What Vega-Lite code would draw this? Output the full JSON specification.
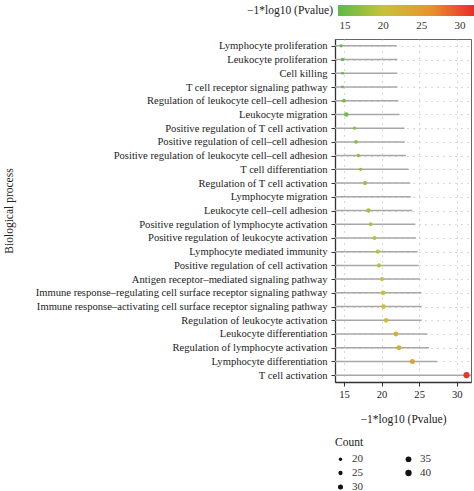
{
  "$schema": "https://vega.github.io/schema/vega-lite/v6.json",
  "width": 136,
  "height": 343,
  "autosize": {"type": "none"},
  "padding": {"left": 335, "top": 39, "right": 3, "bottom": 109},
  "background": "white",
  "config": {
    "font": "Liberation Serif",
    "view": {"stroke": "#666666", "strokeWidth": 1},
    "axis": {
      "labelFont": "Liberation Serif",
      "titleFont": "Liberation Serif",
      "labelFontSize": 10.6,
      "titleFontSize": 11.5,
      "titleFontWeight": "normal",
      "labelColor": "#222222",
      "titleColor": "#222222",
      "domainColor": "#333333",
      "domainWidth": 1.3,
      "tickColor": "#333333",
      "tickSize": 4,
      "gridColor": "#b5b5b5",
      "gridDash": [1, 5],
      "gridWidth": 1,
      "labelLimit": 0
    },
    "legend": {
      "labelFont": "Liberation Serif",
      "titleFont": "Liberation Serif",
      "labelFontSize": 11,
      "titleFontSize": 11.5,
      "titleFontWeight": "normal",
      "labelColor": "#333333",
      "titleColor": "#222222",
      "padding": 0
    }
  },
  "data": {
    "values": [
      {"term": "Lymphocyte proliferation", "pval": 14.6, "count": 20, "lineEnd": 22.0},
      {"term": "Leukocyte proliferation", "pval": 14.8, "count": 21, "lineEnd": 22.1},
      {"term": "Cell killing", "pval": 14.8, "count": 18, "lineEnd": 22.1},
      {"term": "T cell receptor signaling pathway", "pval": 14.8, "count": 18, "lineEnd": 22.1},
      {"term": "Regulation of leukocyte cell–cell adhesion", "pval": 15.0, "count": 22, "lineEnd": 22.25},
      {"term": "Leukocyte migration", "pval": 15.3, "count": 27, "lineEnd": 22.4},
      {"term": "Positive regulation of T cell activation", "pval": 16.4, "count": 20, "lineEnd": 23.05},
      {"term": "Positive regulation of cell–cell adhesion", "pval": 16.6, "count": 21, "lineEnd": 23.1},
      {"term": "Positive regulation of leukocyte cell–cell adhesion", "pval": 16.9, "count": 21, "lineEnd": 23.25},
      {"term": "T cell differentiation", "pval": 17.2, "count": 20, "lineEnd": 23.6},
      {"term": "Regulation of T cell activation", "pval": 17.8, "count": 25, "lineEnd": 23.8},
      {"term": "Lymphocyte migration", "pval": null, "count": null, "lineEnd": 23.9},
      {"term": "Leukocyte cell–cell adhesion", "pval": 18.25, "count": 25, "lineEnd": 24.1},
      {"term": "Positive regulation of lymphocyte activation", "pval": 18.55, "count": 22, "lineEnd": 24.5},
      {"term": "Positive regulation of leukocyte activation", "pval": 19.05, "count": 23, "lineEnd": 24.6},
      {"term": "Lymphocyte mediated immunity", "pval": 19.5, "count": 25, "lineEnd": 24.8},
      {"term": "Positive regulation of cell activation", "pval": 19.65, "count": 24, "lineEnd": 24.95},
      {"term": "Antigen receptor–mediated signaling pathway", "pval": 20.05, "count": 24, "lineEnd": 25.1},
      {"term": "Immune response–regulating cell surface receptor signaling pathway", "pval": 20.2, "count": 28, "lineEnd": 25.3},
      {"term": "Immune response–activating cell surface receptor signaling pathway", "pval": 20.25, "count": 28, "lineEnd": 25.35},
      {"term": "Regulation of leukocyte activation", "pval": 20.6, "count": 28, "lineEnd": 25.35},
      {"term": "Leukocyte differentiation", "pval": 21.9, "count": 29, "lineEnd": 26.1},
      {"term": "Regulation of lymphocyte activation", "pval": 22.3, "count": 29, "lineEnd": 26.3},
      {"term": "Lymphocyte differentiation", "pval": 24.1, "count": 30, "lineEnd": 27.4},
      {"term": "T cell activation", "pval": 31.3, "count": 38, "lineEnd": 31.9}
    ]
  },
  "encoding": {
    "y": {
      "field": "term",
      "type": "nominal",
      "sort": null,
      "scale": {"type": "point", "padding": 0.5},
      "axis": {
        "title": "Biological process",
        "grid": true,
        "labelPadding": 4,
        "titleX": -326,
        "titleBaseline": "middle"
      }
    }
  },
  "layer": [
    {
      "mark": {"type": "rule", "color": "#a8a8a8", "strokeWidth": 1.5},
      "encoding": {
        "x": {
          "field": "lineEnd",
          "type": "quantitative",
          "scale": {"domain": [13.8, 31.9], "nice": false, "zero": false},
          "axis": {
            "title": "−1*log10 (Pvalue)",
            "values": [15, 17.5, 20, 22.5, 25, 27.5, 30],
            "labelExpr": "datum.value % 5 === 0 ? datum.label : ''",
            "tickColor": {"condition": {"test": "datum.value % 5 === 0", "value": "#333333"}, "value": "transparent"},
            "grid": true,
            "labelPadding": 3,
            "titlePadding": 14
          }
        },
        "x2": {"datum": 13.8}
      }
    },
    {
      "mark": {"type": "circle", "opacity": 1, "strokeWidth": 0},
      "encoding": {
        "x": {
          "field": "pval",
          "type": "quantitative"
        },
        "size": {
          "field": "count",
          "type": "quantitative",
          "title": "Count",
          "scale": {"domain": [15, 40], "range": [4, 40], "zero": false},
          "legend": {
            "orient": "none",
            "legendX": 0,
            "legendY": 398,
            "columns": 2,
            "values": [20, 25, 30, 35, 40],
            "symbolFillColor": "#111111",
            "symbolStrokeWidth": 0,
            "symbolType": "circle",
            "columnPadding": 40,
            "rowPadding": 2,
            "labelOffset": 6
          }
        },
        "color": {
          "field": "pval",
          "type": "quantitative",
          "title": "−1*log10 (Pvalue)",
          "scale": {
            "domain": [14.1, 32.2],
            "range": ["#5dbb46", "#c7c23a", "#e8932d", "#e8262b"],
            "interpolate": "rgb"
          },
          "legend": {
            "orient": "none",
            "direction": "horizontal",
            "legendX": -88,
            "legendY": -34,
            "titleOrient": "left",
            "titlePadding": 4,
            "gradientLength": 139,
            "gradientThickness": 11,
            "gradientStrokeWidth": 0,
            "values": [15, 20, 25, 30],
            "labelOffset": 4
          }
        }
      }
    }
  ]
}
